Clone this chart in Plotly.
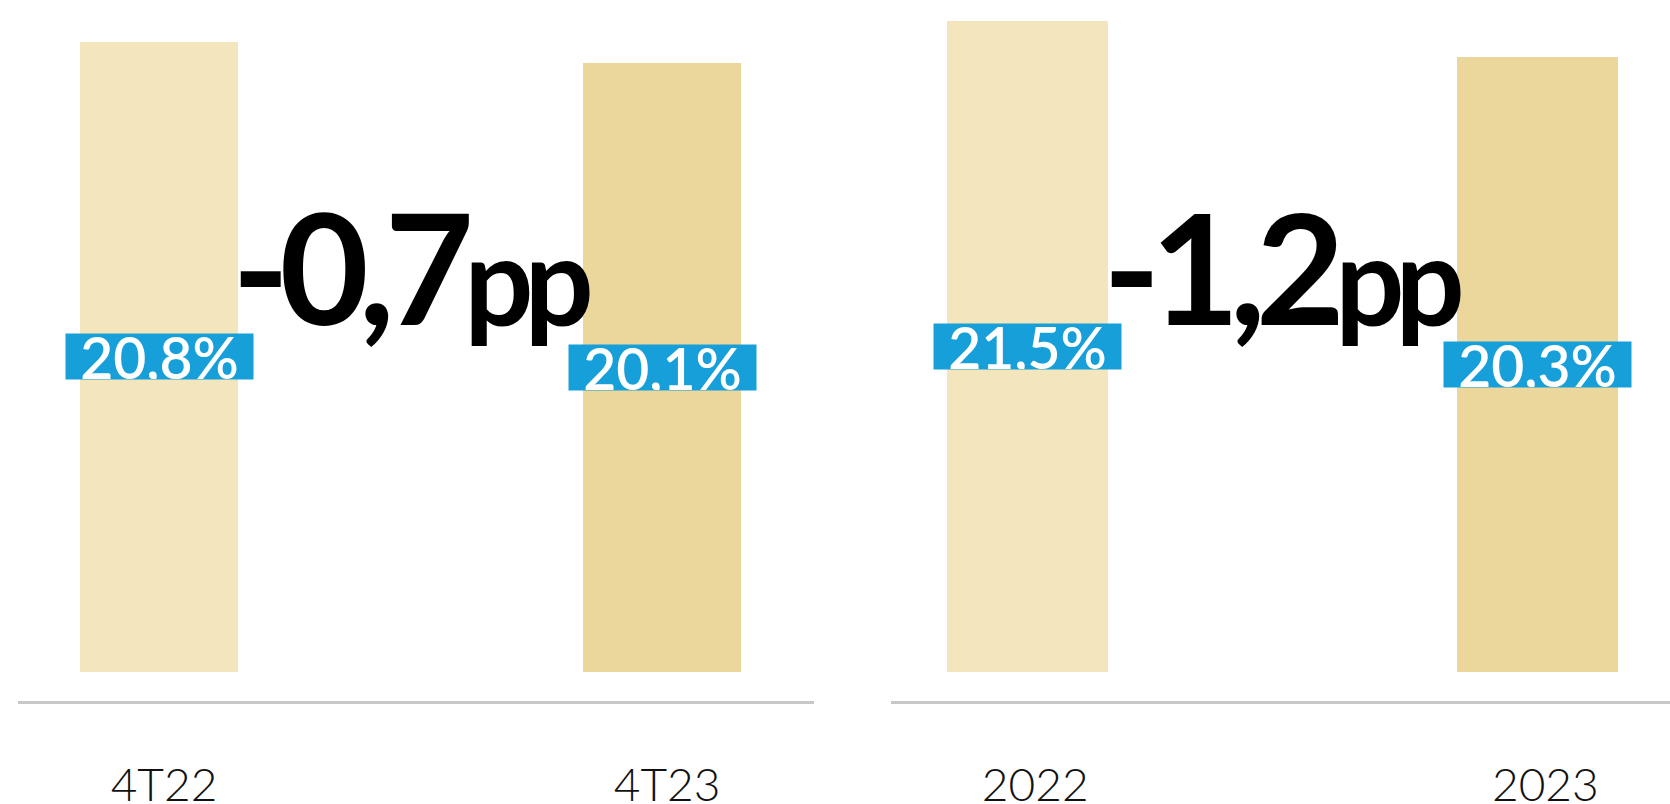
import plotly.graph_objects as go

quarter_labels = ["4T22", "4T23"]
quarter_values = [20.8, 20.1]
year_labels = ["2022", "2023"]
year_values = [21.5, 20.3]

bar_colors = ["#F3E5BC", "#EBD69C"]
label_bg = "#179FDA"
axis_line = "#C8C8C8"


def fmt_value(v):
    return f"{v:.1f}".replace(".", ",") + "%"


def fmt_delta(d):
    num = f"{d:.1f}".replace(".", ",")
    return ("<span style='letter-spacing:-10px'>" + num + "</span>"
            "<span style='font-size:122px;letter-spacing:-9px'>pp</span>")


fig = go.Figure()

panels = [
    (quarter_labels, quarter_values, "x"),
    (year_labels, year_values, "x2"),
]

for labels, values, xref in panels:
    idx = list(range(len(labels)))
    fig.add_trace(go.Bar(
        x=idx, y=values, xaxis=xref, yaxis="y",
        marker=dict(color=bar_colors, line=dict(width=0)),
        width=0.315, showlegend=False, hoverinfo="skip",
    ))
    for i, v in zip(idx, values):
        fig.add_annotation(
            x=i, y=v / 2, xref=xref, yref="y",
            text="\u00a0" + fmt_value(v) + "\u00a0",
            showarrow=False, bgcolor=label_bg, borderpad=0, height=45,
            font=dict(family="Lato", size=57, color="white", weight=600),
        )
    delta = values[1] - values[0]
    fig.add_annotation(
        x=0.5, y=13.42, xref=xref, yref="y",
        text=fmt_delta(delta), showarrow=False,
        font=dict(family="Lato", size=154, color="black", weight=700),
    )

common_x = dict(
    showgrid=False, zeroline=False, showline=True, linecolor=axis_line,
    linewidth=3, ticks="", tickmode="array", tickvals=[0, 1],
    tickfont=dict(family="Lato", size=46, color="#111111", weight=300),
    ticklabelstandoff=42, automargin=False, fixedrange=True,
)

fig.update_layout(
    width=1670, height=804,
    margin=dict(l=0, r=0, t=0, b=103),
    paper_bgcolor="white", plot_bgcolor="white",
    bargap=0,
    xaxis=dict(domain=[18 / 1670, 814 / 1670], range=[-0.2803, 1.302],
               ticktext=quarter_labels, anchor="y", ticklabelshift=5,
               **common_x),
    xaxis2=dict(domain=[891 / 1670, 1.0], range=[-0.267, 1.26],
                ticktext=year_labels, anchor="y", ticklabelshift=8,
                **common_x),
    yaxis=dict(range=[-0.957, 22.18], visible=False, fixedrange=True,
               automargin=False),
)

fig.write_html("out.html", config={"displayModeBar": False},
               post_script="document.body.style.margin='0';")
